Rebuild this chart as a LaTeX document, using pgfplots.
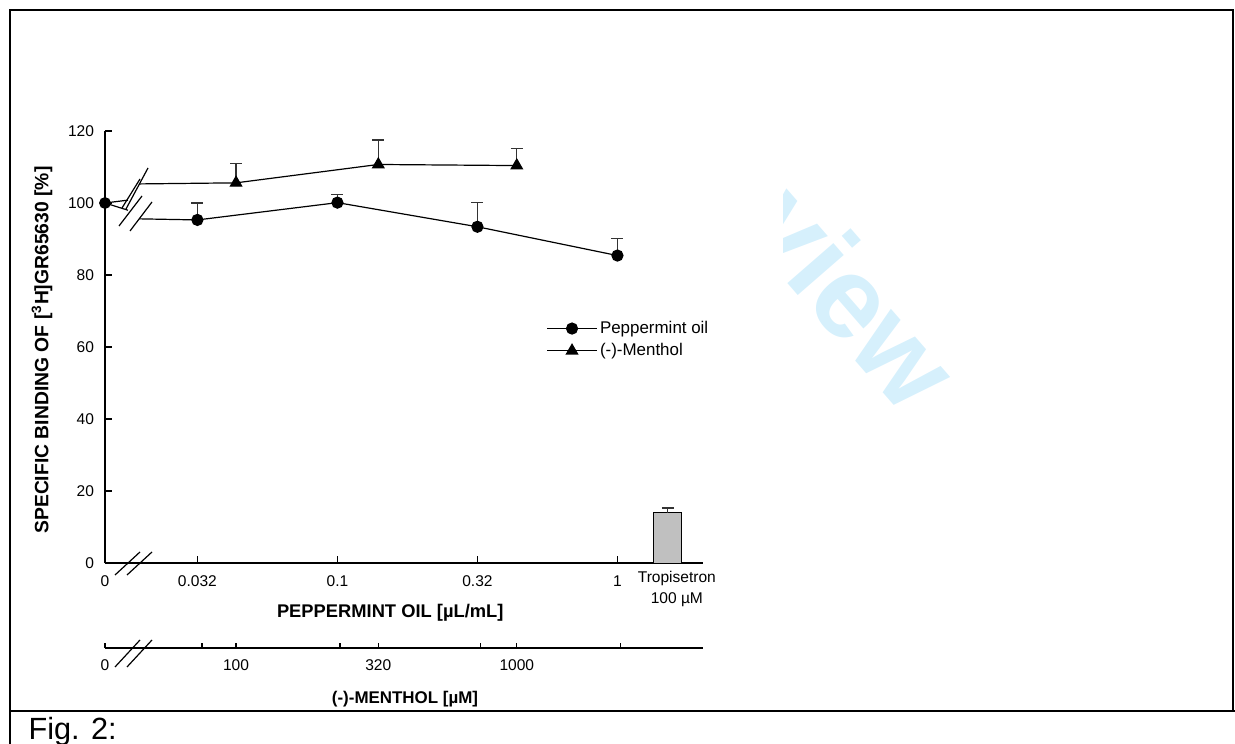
\documentclass[border=0pt]{standalone}
\usepackage{fontspec}
\setmainfont{Liberation Sans}
\usepackage{pgfplots}
\pgfplotsset{compat=1.18}
\definecolor{wm}{RGB}{214,240,252}
\definecolor{bargray}{RGB}{192,192,192}
\newcommand{\tickfont}{\fontsize{7.8}{10.5}\selectfont}

\begin{document}
\begin{tikzpicture}
\useasboundingbox (0,0) rectangle (617.5bp,-372bp);

% watermark, hidden behind the white figure area
\begin{scope}[x=0.5bp,y=-0.5bp]
  \begin{scope}
    \clip (0,0) rectangle (1235,744);
    \node[rotate=-49, anchor=base east, text=wm, inner sep=0pt,
          font=\bfseries\fontsize{58}{58}\selectfont] at (905,418) {Review};
  \end{scope}
  \fill[white] (11,11) rectangle (783,710);
\end{scope}

% main axis: peppermint oil
\begin{axis}[
    at={(52.5bp,-281.5bp)}, anchor=south west,
    scale only axis, width=299bp, height=216bp,
    xmin=0, xmax=4.271, ymin=0, ymax=120,
    axis x line*=bottom, axis y line*=left,
    axis line style={line width=0.6bp},
    every tick/.style={black, line width=0.6bp},
    tick align=inside, major tick length=3.3bp,
    xtick={0,0.66,1.66,2.66,3.66},
    xticklabels={0,0.032,0.1,0.32,1},
    extra x ticks={4.02},
    extra x tick labels={{Tropisetron\\100 µM}},
    extra x tick style={major tick length=0pt,
        xticklabel style={yshift=2.5bp, xshift=4.5bp}},
    ytick={0,20,40,60,80,100,120},
    ticklabel style={font=\tickfont},
    /pgf/number format/assume math mode=true,
    xticklabel style={align=center, yshift=-3bp},
    yticklabel style={xshift=-2bp},
    xlabel={\textbf{PEPPERMINT OIL [µL/mL]}},
    xlabel style={at={(axis description cs:0.477,-0.115)}, anchor=center,
                  font=\fontsize{9.2}{11}\selectfont},
    ylabel={\textbf{SPECIFIC BINDING OF [\textsuperscript{3}H]GR65630 [\%]}},
    ylabel style={at={(axis description cs:-0.1054,0.493)}, anchor=center,
                  font=\fontsize{9.7}{11}\selectfont},
    clip=false,
    legend cell align=left,
    legend style={at={(axis description cs:0.7375,0.517)}, anchor=west,
                  draw=none, fill=none, inner sep=0pt, row sep=-0.5bp,
                  nodes={inner xsep=1.2bp},
                  font=\fontsize{8.5}{10}\selectfont},
    legend image code/.code={\draw[mark repeat=2,mark phase=2]
        plot coordinates {(0bp,0bp)(12.5bp,0bp)(25bp,0bp)};},
]
% lines broken near zero
\addplot[black, line width=0.6bp, forget plot] coordinates {(0,100) (0.164,98.0)};
\addplot[black, line width=0.6bp, forget plot] coordinates {(0,100) (0.164,100.8)};
\addplot[black, line width=0.6bp, forget plot] coordinates {(0.243,95.6) (0.66,95.3)};
\addplot[black, line width=0.6bp, forget plot] coordinates {(0.243,105.3) (0.936,105.6)};

\addplot[black, line width=0.6bp, mark=*, mark size=2.75bp, mark options={solid, fill=black},
    error bars/.cd, y dir=plus, y explicit,
    error bar style={line width=0.6bp, black!80},
    error mark options={rotate=90, mark size=3bp, line width=0.6bp, black!80}]
    coordinates {(0.66,95.3) +- (0,4.7) (1.66,100.1) +- (0,2.3)
                 (2.66,93.4) +- (0,6.7) (3.66,85.4) +- (0,4.8)};
\addlegendentry{Peppermint oil}

\addplot[black, line width=0.6bp, mark=triangle*, mark size=3.2bp, mark options={solid, fill=black},
    error bars/.cd, y dir=plus, y explicit,
    error bar style={line width=0.6bp, black!80},
    error mark options={rotate=90, mark size=3bp, line width=0.6bp, black!80}]
    coordinates {(0.936,105.6) +- (0,5.4) (1.952,110.7) +- (0,6.8) (2.941,110.4) +- (0,4.7)};
\addlegendentry{(-)-Menthol}

\addplot[only marks, mark=*, mark size=2.75bp, black, forget plot] coordinates {(0,100)};

% tropisetron control
\addplot[ybar, bar width=14bp, draw=black, line width=0.5bp, fill=bargray, forget plot,
    error bars/.cd, y dir=plus, y explicit,
    error bar style={line width=0.6bp, black!80},
    error mark options={rotate=90, mark size=3bp, line width=0.6bp, black!80}]
    coordinates {(4.02,13.9) +- (0,1.4)};
\end{axis}

% second axis: menthol concentrations
\begin{axis}[
    at={(52.5bp,-324bp)}, anchor=south west,
    scale only axis, width=299bp, height=10bp,
    xmin=0, xmax=4.271, ymin=0, ymax=1,
    axis x line*=bottom, hide y axis,
    axis line style={line width=0.6bp},
    every tick/.style={black, line width=0.6bp},
    tick align=inside, major tick length=2.6bp,
    xtick={0,0.693,0.936,1.679,1.952,2.679,2.941,3.679},
    xticklabels={0,,100,,320,,1000,},
    ticklabel style={font=\tickfont},
    xticklabel style={yshift=-2.5bp},
    xlabel={\textbf{(-)-MENTHOL [µM]}},
    xlabel style={at={(axis description cs:0.5017,0)}, anchor=center, yshift=-25.5bp,
                  font=\fontsize{8.5}{11}\selectfont},
]
\end{axis}

% axis breaks, frame and caption
\begin{scope}[x=0.5bp,y=-0.5bp, line width=0.6bp]
  \draw (122,208) -- (140,179);
  \draw (126,209) -- (148,168);
  \draw (119,226) -- (142,196);
  \draw (130,231) -- (152,202);
  \draw (115,575) -- (140,552);
  \draw (127,575) -- (152,552);
  \draw (115,667) -- (140,640);
  \draw (127,667) -- (152,640);
  \draw[line width=1.35bp] (10,744) -- (10,10) -- (1233,10) -- (1233,711);
  \draw[line width=1.35bp] (10,711) -- (1235,711);
  \node[anchor=base west, inner sep=0pt, font=\fontsize{15.4}{17}\selectfont] at (28,740) {Fig. 2:};
\end{scope}
\end{tikzpicture}
\end{document}
